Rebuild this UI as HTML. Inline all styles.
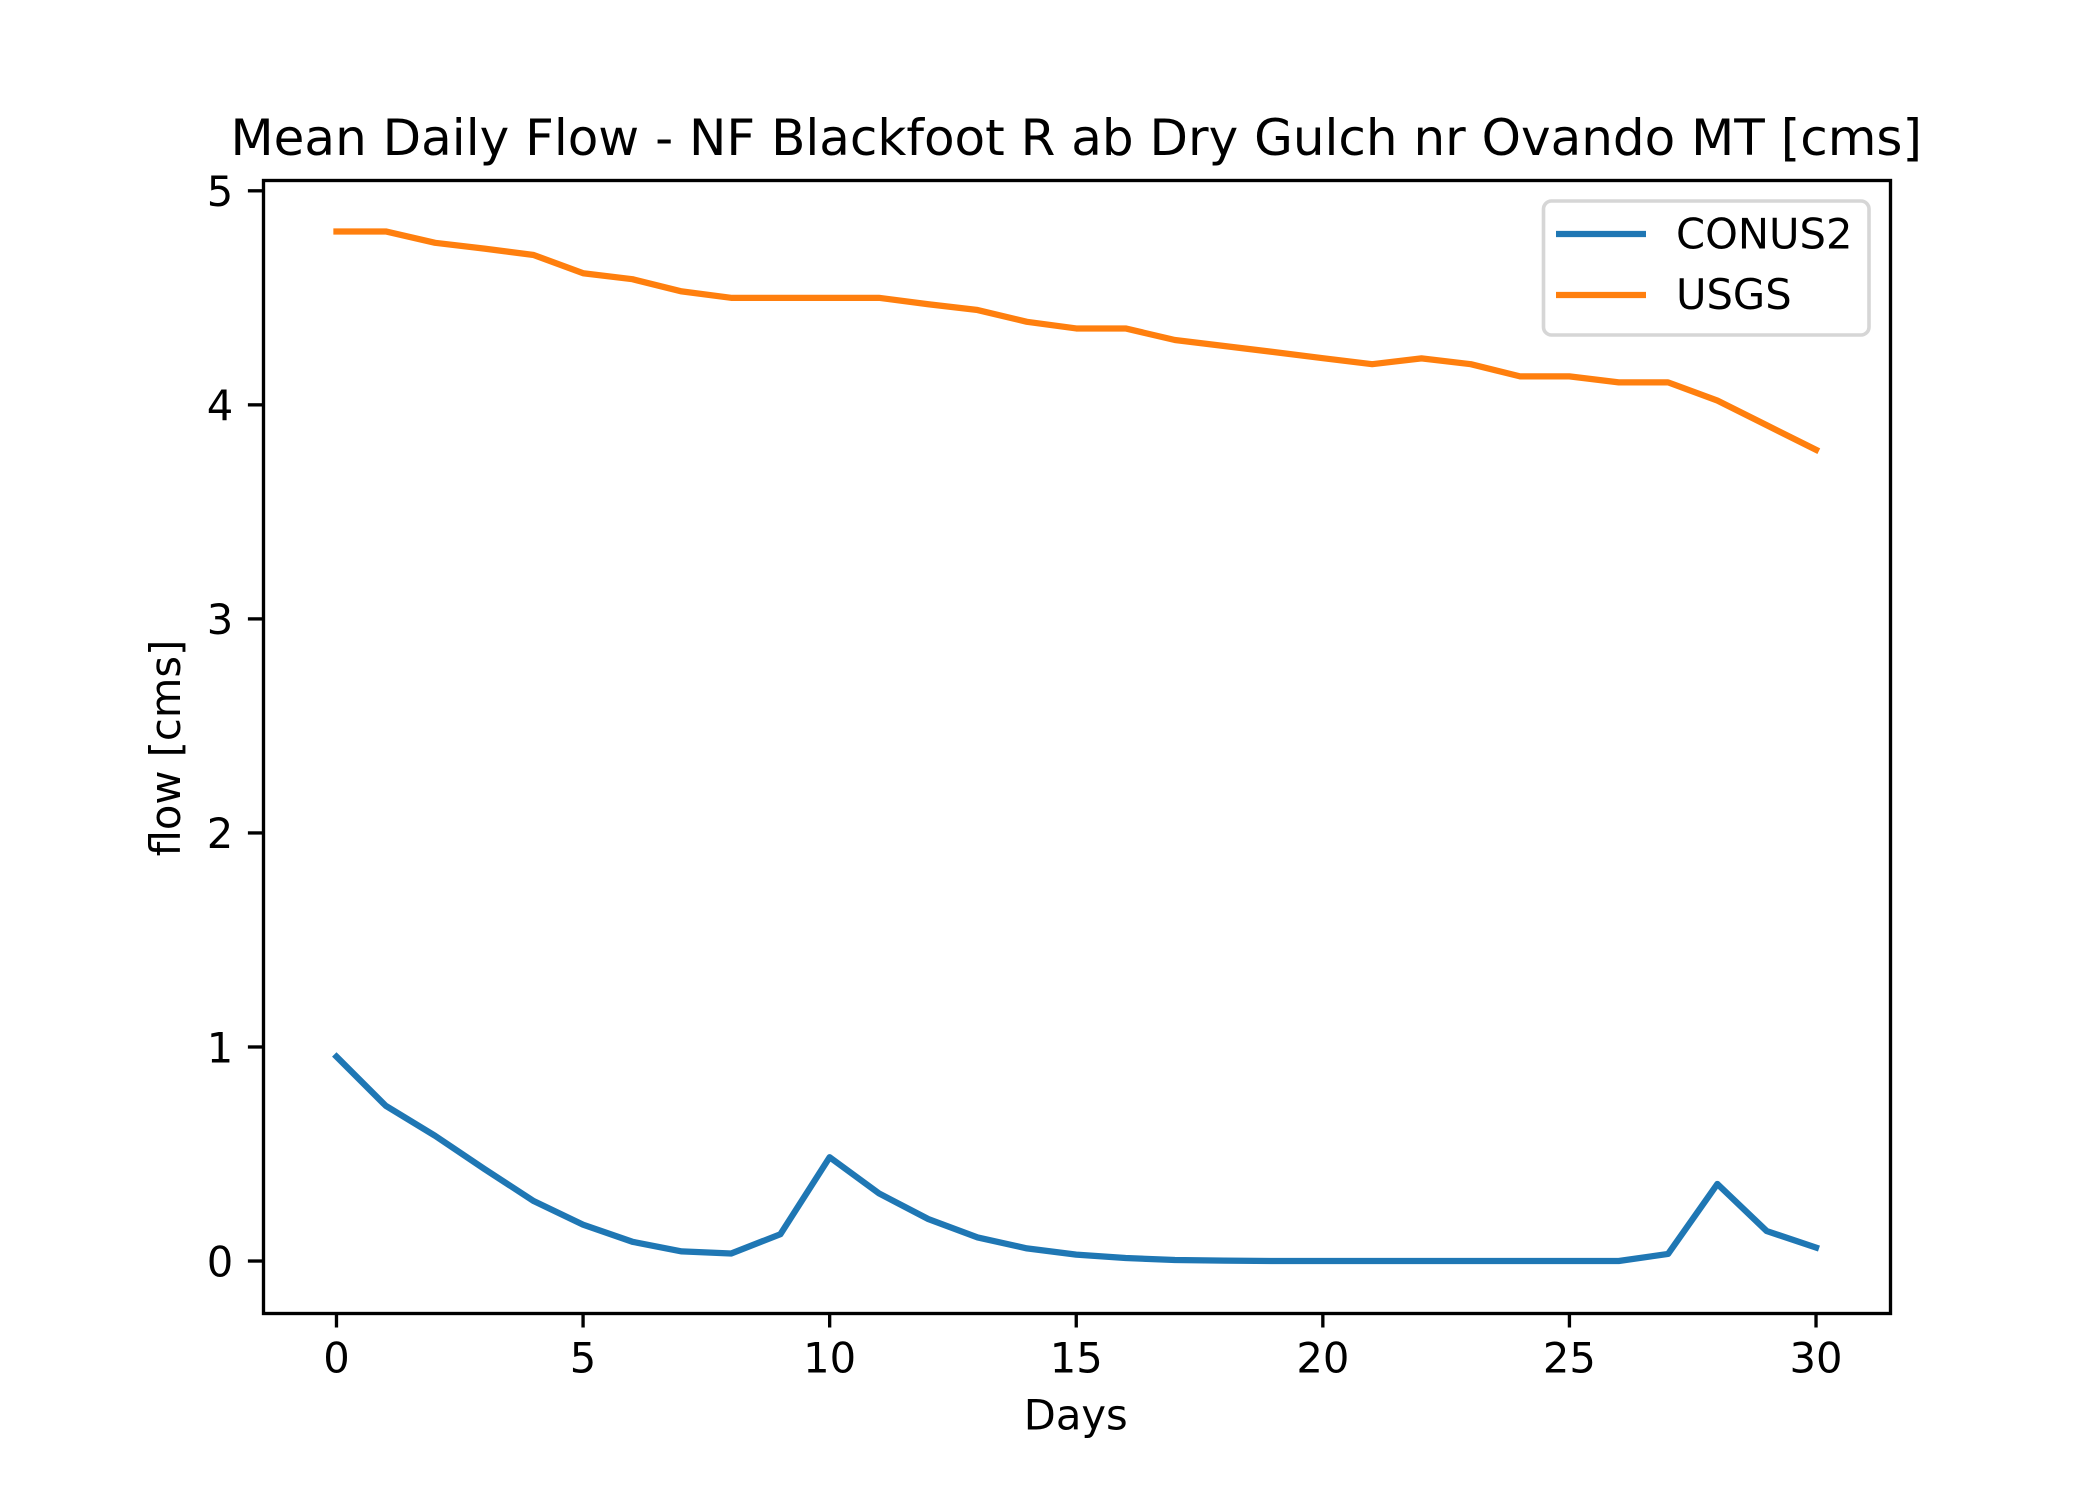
<!DOCTYPE html>
<html lang="en">
<head>
<meta charset="utf-8">
<title>Mean Daily Flow</title>
<style>
html,body{margin:0;padding:0;background:#fff;}
svg{display:block;}
text{font-family:"DejaVu Sans","Liberation Sans",sans-serif;fill:#000;}
</style>
</head>
<body>
<svg id="chart" xmlns="http://www.w3.org/2000/svg" width="2100" height="1500" viewBox="0 0 2100 1500">
  <rect x="0" y="0" width="2100" height="1500" fill="#ffffff"/>
  <g id="series"></g>
  <g id="xticks"></g>
  <g id="yticks"></g>
  <rect x="263.5" y="180.5" width="1627" height="1133" fill="none" stroke="#000" stroke-width="3.33" stroke-linejoin="miter"/>
  <text x="1076.25" y="155" font-size="50" text-anchor="middle">Mean Daily Flow - NF Blackfoot R ab Dry Gulch nr Ovando MT [cms]</text>
  <text x="1075.75" y="1429.5" font-size="41.67" text-anchor="middle">Days</text>
  <text x="0" y="0" font-size="41.67" text-anchor="middle" transform="translate(180 748) rotate(-90)">flow [cms]</text>
  <g>
    <rect x="1543.5" y="201" width="325.5" height="134" rx="8" ry="8" fill="#ffffff" fill-opacity="0.8" stroke="#d6d6d6" stroke-width="3.6"/>
    <line x1="1556" y1="234" x2="1646" y2="234" stroke="#1f77b4" stroke-width="6.25"/>
    <text x="1676" y="248.5" font-size="41.67">CONUS2</text>
    <line x1="1556" y1="295" x2="1646" y2="295" stroke="#ff7f0e" stroke-width="6.25"/>
    <text x="1676" y="309" font-size="41.67">USGS</text>
  </g>
</svg>
<script>
const days = [0,1,2,3,4,5,6,7,8,9,10,11,12,13,14,15,16,17,18,19,20,21,22,23,24,25,26,27,28,29,30];
const conus2 = [0.955,0.725,0.585,0.43,0.28,0.17,0.09,0.045,0.035,0.125,0.485,0.316,0.196,0.11,0.059,0.03,0.014,0.005,0.002,0,0,0,0,0,0,0,0,0.033,0.36,0.14,0.063];
const usgs = [4.81,4.81,4.757,4.73,4.70,4.615,4.587,4.53,4.50,4.50,4.50,4.50,4.47,4.443,4.388,4.357,4.357,4.303,4.275,4.247,4.218,4.19,4.217,4.19,4.133,4.133,4.105,4.105,4.02,3.905,3.79];
const xTickValues = [0,5,10,15,20,25,30];
const yTickValues = [0,1,2,3,4,5];

const NS = 'http://www.w3.org/2000/svg';
const plotLeft = 262.5, plotRight = 1890, plotTop = 180, plotBottom = 1312.5;

function extent(values) {
  return [Math.min.apply(null, values), Math.max.apply(null, values)];
}
const xExt = extent(days);
const yExt = extent(conus2.concat(usgs));
const xPad = (xExt[1] - xExt[0]) * 0.05;
const yPad = (yExt[1] - yExt[0]) * 0.05;
function xScale(v) {
  return plotLeft + (v - (xExt[0] - xPad)) / (xExt[1] - xExt[0] + 2 * xPad) * (plotRight - plotLeft);
}
function yScale(v) {
  return plotBottom - (v - (yExt[0] - yPad)) / (yExt[1] - yExt[0] + 2 * yPad) * (plotBottom - plotTop);
}
function pointsFor(values) {
  return values.map(function (v, i) {
    return xScale(days[i]).toFixed(2) + ',' + yScale(v).toFixed(2);
  }).join(' ');
}

const seriesGroup = document.getElementById('series');
const conusLine = document.createElementNS(NS, 'polyline');


conusLine.setAttribute('points', pointsFor(conus2));
conusLine.setAttribute('fill', 'none');
conusLine.setAttribute('stroke', '#1f77b4');
conusLine.setAttribute('stroke-width', '6.25');
conusLine.setAttribute('stroke-linecap', 'square');
conusLine.setAttribute('stroke-linejoin', 'round');
seriesGroup.appendChild(conusLine);

const usgsLine = document.createElementNS(NS, 'polyline');


usgsLine.setAttribute('points', pointsFor(usgs));
usgsLine.setAttribute('fill', 'none');
usgsLine.setAttribute('stroke', '#ff7f0e');
usgsLine.setAttribute('stroke-width', '6.25');
usgsLine.setAttribute('stroke-linecap', 'square');
usgsLine.setAttribute('stroke-linejoin', 'round');
seriesGroup.appendChild(usgsLine);

const xTickGroup = document.getElementById('xticks');
xTickValues.forEach(function (v) {
  const x = xScale(v);
  const mark = document.createElementNS(NS, 'line');
  
  
  mark.setAttribute('x1', x);
  mark.setAttribute('x2', x);
  mark.setAttribute('y1', plotBottom);
  mark.setAttribute('y2', plotBottom + 15);
  mark.setAttribute('stroke', '#000');
  mark.setAttribute('stroke-width', '3.33');
  xTickGroup.appendChild(mark);
  const label = document.createElementNS(NS, 'text');
  
  
  label.setAttribute('x', x);
  label.setAttribute('y', 1372.7);
  label.setAttribute('font-size', '41.67');
  label.setAttribute('text-anchor', 'middle');
  label.textContent = String(v);
  xTickGroup.appendChild(label);
});

const yTickGroup = document.getElementById('yticks');
yTickValues.forEach(function (v) {
  const y = yScale(v);
  const mark = document.createElementNS(NS, 'line');
  
  
  mark.setAttribute('x1', plotLeft - 14.6);
  mark.setAttribute('x2', plotLeft);
  mark.setAttribute('y1', y);
  mark.setAttribute('y2', y);
  mark.setAttribute('stroke', '#000');
  mark.setAttribute('stroke-width', '3.33');
  yTickGroup.appendChild(mark);
  const label = document.createElementNS(NS, 'text');
  
  
  label.setAttribute('x', plotLeft - 29.2);
  label.setAttribute('y', y + 15.3);
  label.setAttribute('font-size', '41.67');
  label.setAttribute('text-anchor', 'end');
  label.textContent = String(v);
  yTickGroup.appendChild(label);
});
</script>
</body>
</html>
